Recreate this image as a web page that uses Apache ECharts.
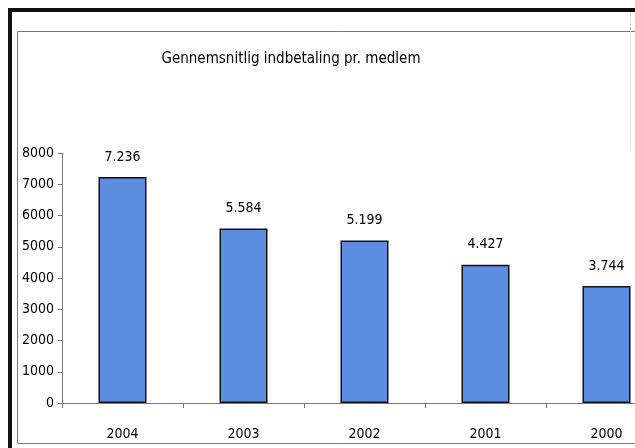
<!DOCTYPE html>
<html>
<head>
<meta charset="utf-8">
<script src="https://cdn.jsdelivr.net/npm/echarts@6/dist/echarts.min.js"></script>
<style>
  html, body { margin: 0; padding: 0; background: #fff; overflow: hidden; }
  /* plotområdet fortsætter ud over højre kant i originalen */
  #chart { width: 667px; height: 448px; }
</style>
</head>
<body>
<div id="chart"></div>
<script>
// gennemsnitlig indbetaling pr. medlem
var years = ['2004', '2003', '2002', '2001', '2000'];
var amounts = [7236, 5584, 5199, 4427, 3744];
var yTicks = [0, 1000, 2000, 3000, 4000, 5000, 6000, 7000, 8000];

var font = '"DejaVu Sans Condensed", "Liberation Sans Narrow", Arial, sans-serif';

// dansk tusindtalsseparator
function fmt(v) {
  var s = String(v);
  return s.replace(/\B(?=(\d{3})+(?!\d))/g, '.');
}

var chart = echarts.init(document.getElementById('chart'));

var option = {
  animation: false,
  backgroundColor: '#fff',
  title: {
    text: 'Gennemsnitlig indbetaling pr. medlem',
    left: 286,
    top: 47,
    textAlign: 'center',
    textStyle: { fontFamily: font, fontSize: 15, fontWeight: 'normal', color: '#000' }
  },
  graphic: [
    // ydre ramme
    { type: 'rect', shape: { x: 10, y: 10, width: 640, height: 460 }, style: { fill: 'none', stroke: '#111', lineWidth: 4 } },
    // indre ramme
    { type: 'rect', shape: { x: 17.5, y: 31.5, width: 640, height: 412 }, style: { fill: 'none', stroke: '#777', lineWidth: 1 } },
    // svag kant i højre side
    { type: 'line', shape: { x1: 630.5, y1: 12, x2: 630.5, y2: 150 }, style: { stroke: '#e4e4e4', lineWidth: 1 } }
  ],
  grid: { left: 62, right: 0, top: 153, bottom: 45 },
  xAxis: {
    type: 'category',
    data: years,
    axisLine: { lineStyle: { color: '#777', width: 1 } },
    axisTick: { show: true, length: 5, lineStyle: { color: '#777' } },
    axisLabel: { margin: 24, fontFamily: font, fontSize: 14, color: '#000' }
  },
  yAxis: {
    type: 'value',
    min: yTicks[0],
    max: yTicks[yTicks.length - 1],
    interval: 1000,
    axisLine: { show: true, lineStyle: { color: '#777', width: 1 } },
    axisTick: { show: true, length: 4, lineStyle: { color: '#777' } },
    splitLine: { show: false },
    axisLabel: {
      margin: 8, fontFamily: font, fontSize: 14, color: '#000',
      formatter: function (v) { return String(v); }
    }
  },
  series: [
    {
      type: 'bar',
      data: amounts,
      barWidth: 48,
      itemStyle: { color: '#5b8de0', borderColor: '#111', borderWidth: 1.5 },
      label: {
        show: true,
        position: 'top',
        distance: 13,
        fontFamily: font,
        fontSize: 14,
        color: '#000',
        formatter: function (p) { return fmt(p.value); }
      }
    }
  ]
};

chart.setOption(option);
</script>
</body>
</html>
